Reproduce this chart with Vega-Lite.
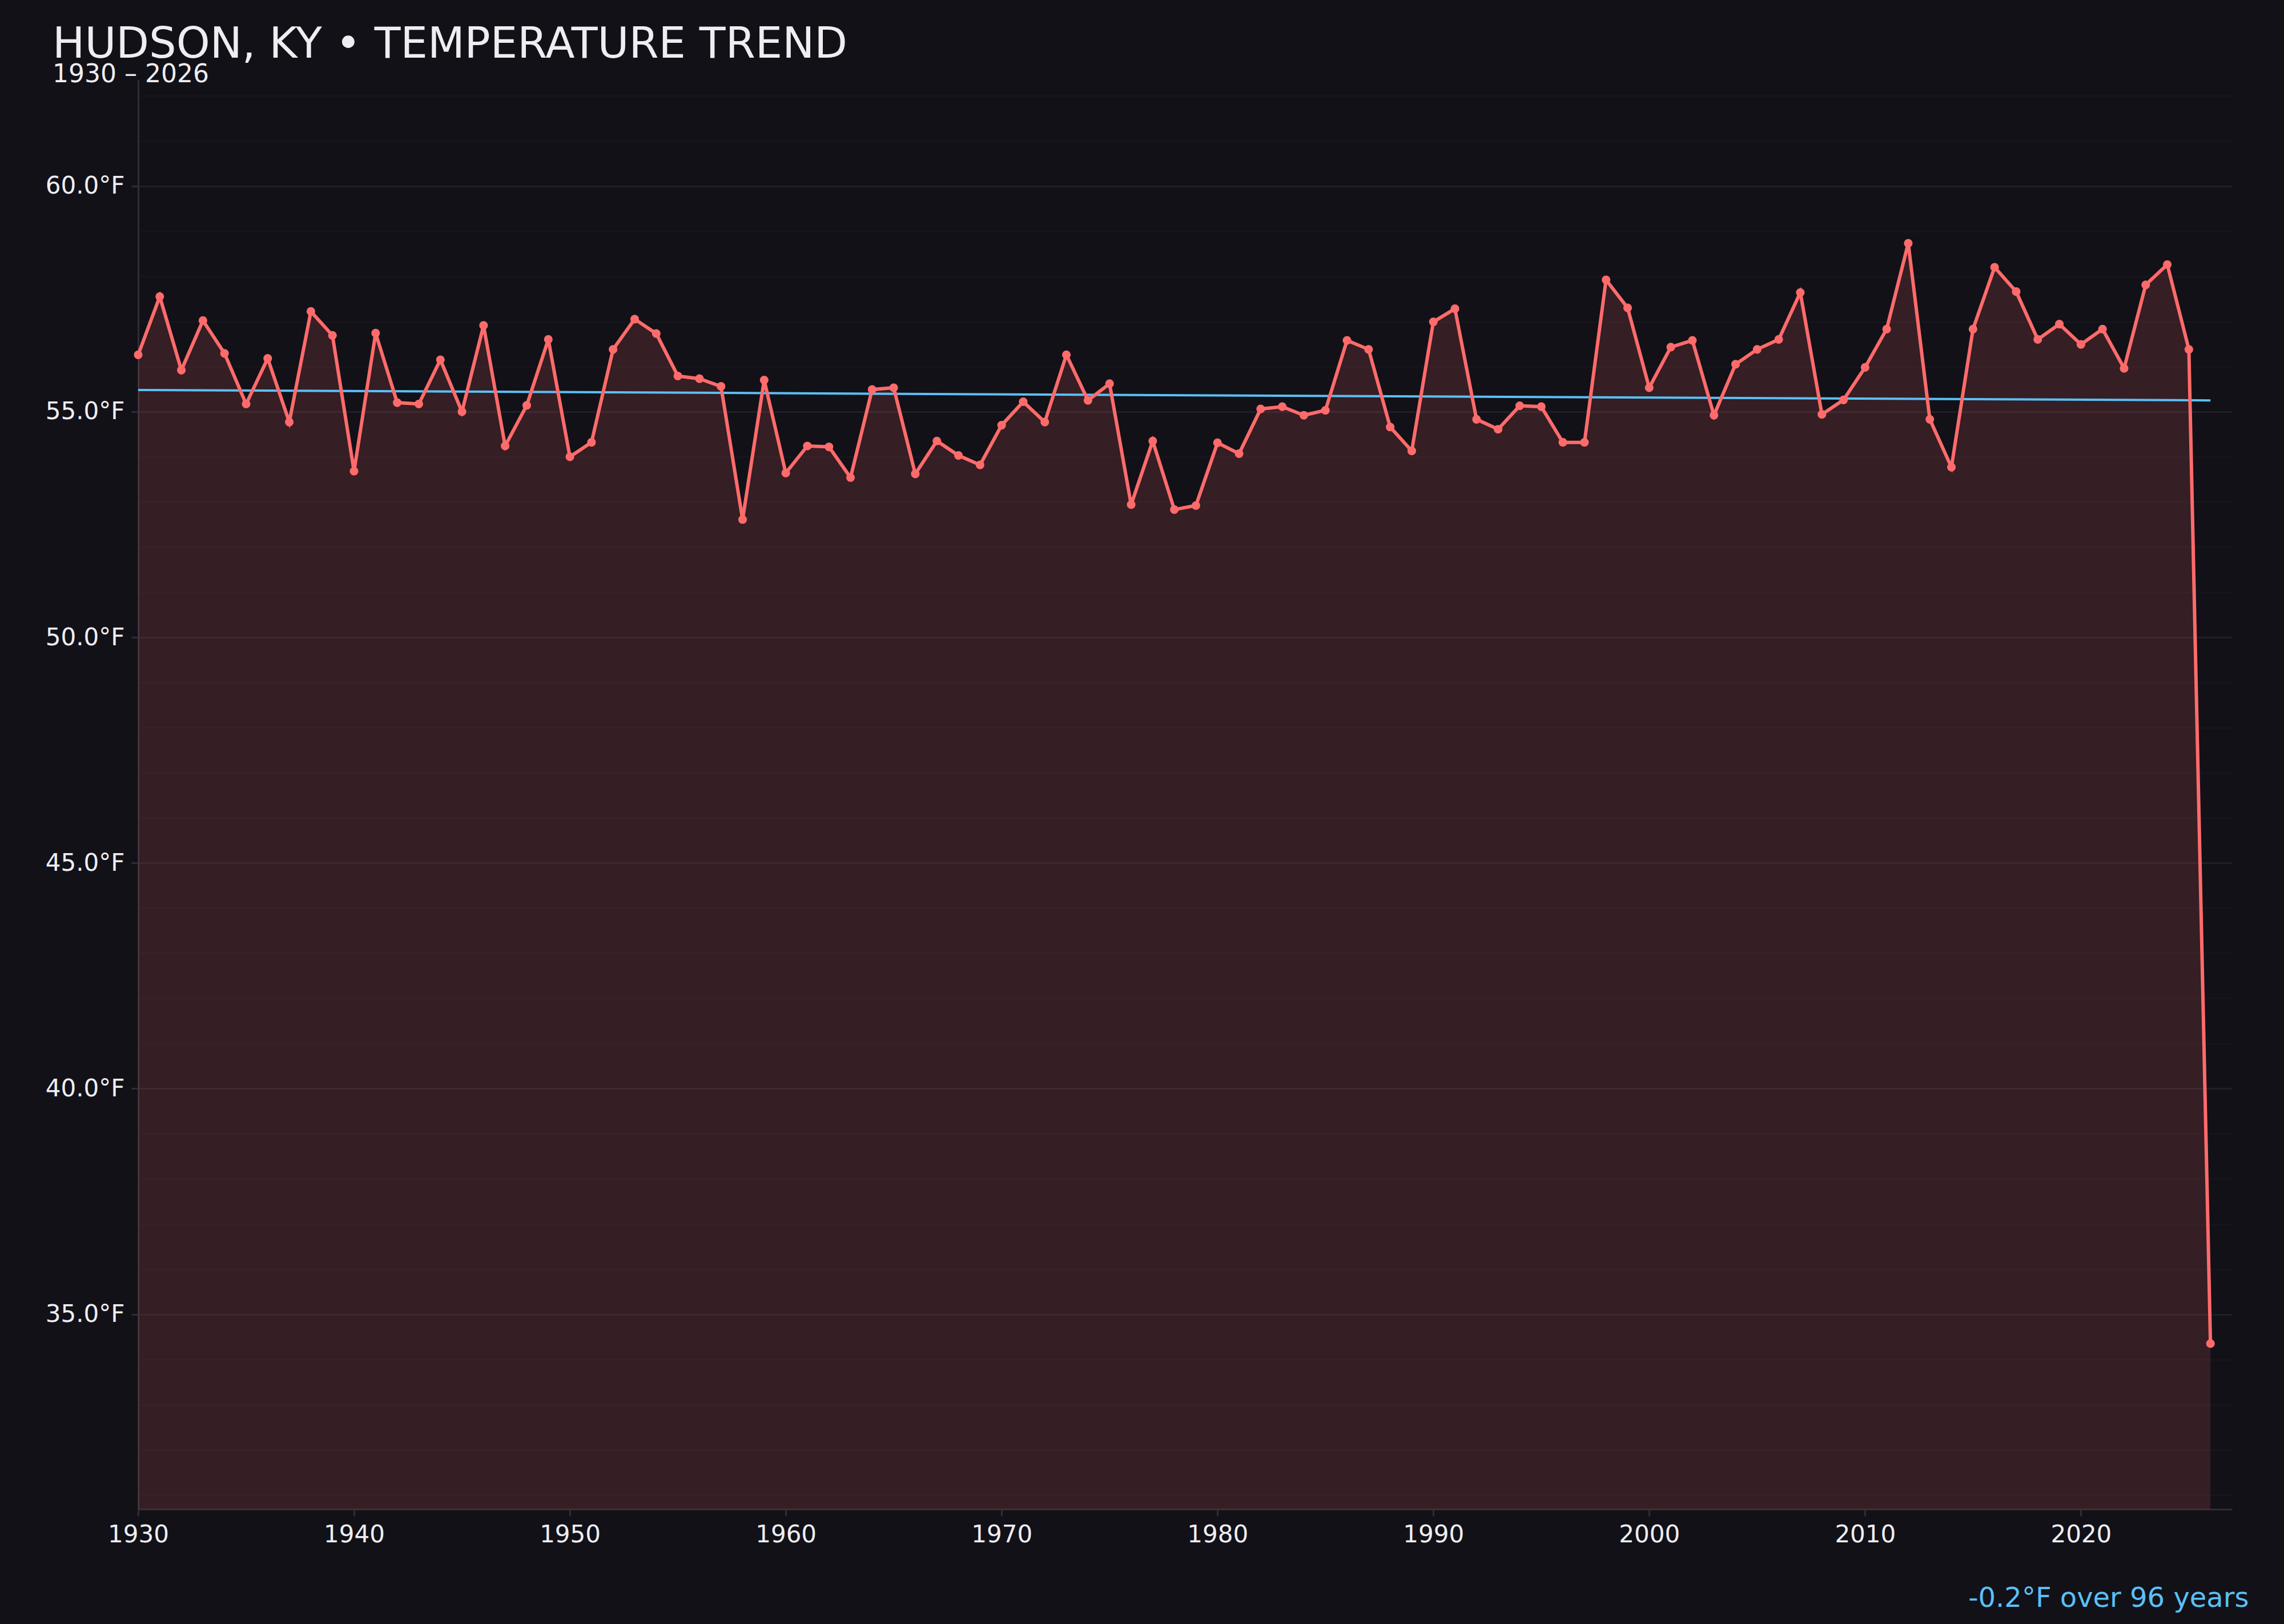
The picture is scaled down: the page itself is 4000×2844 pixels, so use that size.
{
  "$schema": "https://vega.github.io/schema/vega-lite/v6.json",
  "autosize": {"type": "none"},
  "width": 3667,
  "height": 2503,
  "padding": {"left": 242, "top": 140, "right": 91, "bottom": 201},
  "background": "#121118",
  "title": {
    "text": "HUDSON, KY • TEMPERATURE TREND",
    "subtitle": "1930 – 2026",
    "anchor": "start",
    "frame": "group",
    "dx": -150,
    "offset": -14,
    "font": "DejaVu Sans",
    "fontSize": 75,
    "fontWeight": "normal",
    "color": "#eeeef2",
    "subtitleFont": "DejaVu Sans",
    "subtitleFontSize": 44,
    "subtitleColor": "#eeeef2",
    "subtitlePadding": -8
  },
  "config": {
    "view": {"stroke": null},
    "axis": {
      "labelFont": "DejaVu Sans",
      "labelFontSize": 42,
      "labelColor": "#eeeef2",
      "labelFlush": false,
      "domainColor": "#2e2d36",
      "domainWidth": 3,
      "tickColor": "#2e2d36",
      "tickWidth": 3,
      "tickSize": 12,
      "labelPadding": 12
    }
  },
  "datasets": {
    "temps": [
      {"year": 1930, "temp": 56.26}, {"year": 1931, "temp": 57.55}, {"year": 1932, "temp": 55.92},
      {"year": 1933, "temp": 57.02}, {"year": 1934, "temp": 56.29}, {"year": 1935, "temp": 55.17},
      {"year": 1936, "temp": 56.18}, {"year": 1937, "temp": 54.77}, {"year": 1938, "temp": 57.22},
      {"year": 1939, "temp": 56.69}, {"year": 1940, "temp": 53.68}, {"year": 1941, "temp": 56.74},
      {"year": 1942, "temp": 55.20}, {"year": 1943, "temp": 55.17}, {"year": 1944, "temp": 56.15},
      {"year": 1945, "temp": 55.00}, {"year": 1946, "temp": 56.91}, {"year": 1947, "temp": 54.24},
      {"year": 1948, "temp": 55.14}, {"year": 1949, "temp": 56.60}, {"year": 1950, "temp": 54.00},
      {"year": 1951, "temp": 54.32}, {"year": 1952, "temp": 56.38}, {"year": 1953, "temp": 57.05},
      {"year": 1954, "temp": 56.73}, {"year": 1955, "temp": 55.79}, {"year": 1956, "temp": 55.73},
      {"year": 1957, "temp": 55.56}, {"year": 1958, "temp": 52.61}, {"year": 1959, "temp": 55.70},
      {"year": 1960, "temp": 53.64}, {"year": 1961, "temp": 54.24}, {"year": 1962, "temp": 54.22},
      {"year": 1963, "temp": 53.54}, {"year": 1964, "temp": 55.49}, {"year": 1965, "temp": 55.53},
      {"year": 1966, "temp": 53.62}, {"year": 1967, "temp": 54.35}, {"year": 1968, "temp": 54.03},
      {"year": 1969, "temp": 53.82}, {"year": 1970, "temp": 54.70}, {"year": 1971, "temp": 55.22},
      {"year": 1972, "temp": 54.77}, {"year": 1973, "temp": 56.26}, {"year": 1974, "temp": 55.25},
      {"year": 1975, "temp": 55.62}, {"year": 1976, "temp": 52.94}, {"year": 1977, "temp": 54.35},
      {"year": 1978, "temp": 52.83}, {"year": 1979, "temp": 52.92}, {"year": 1980, "temp": 54.31},
      {"year": 1981, "temp": 54.07}, {"year": 1982, "temp": 55.06}, {"year": 1983, "temp": 55.11},
      {"year": 1984, "temp": 54.92}, {"year": 1985, "temp": 55.03}, {"year": 1986, "temp": 56.58},
      {"year": 1987, "temp": 56.38}, {"year": 1988, "temp": 54.66}, {"year": 1989, "temp": 54.13},
      {"year": 1990, "temp": 56.99}, {"year": 1991, "temp": 57.28}, {"year": 1992, "temp": 54.83},
      {"year": 1993, "temp": 54.61}, {"year": 1994, "temp": 55.13}, {"year": 1995, "temp": 55.11},
      {"year": 1996, "temp": 54.32}, {"year": 1997, "temp": 54.32}, {"year": 1998, "temp": 57.92},
      {"year": 1999, "temp": 57.30}, {"year": 2000, "temp": 55.53}, {"year": 2001, "temp": 56.43},
      {"year": 2002, "temp": 56.58}, {"year": 2003, "temp": 54.92}, {"year": 2004, "temp": 56.05},
      {"year": 2005, "temp": 56.38}, {"year": 2006, "temp": 56.60}, {"year": 2007, "temp": 57.64},
      {"year": 2008, "temp": 54.94}, {"year": 2009, "temp": 55.26}, {"year": 2010, "temp": 55.98},
      {"year": 2011, "temp": 56.83}, {"year": 2012, "temp": 58.73}, {"year": 2013, "temp": 54.83},
      {"year": 2014, "temp": 53.77}, {"year": 2015, "temp": 56.83}, {"year": 2016, "temp": 58.20},
      {"year": 2017, "temp": 57.66}, {"year": 2018, "temp": 56.60}, {"year": 2019, "temp": 56.94},
      {"year": 2020, "temp": 56.49}, {"year": 2021, "temp": 56.83}, {"year": 2022, "temp": 55.96},
      {"year": 2023, "temp": 57.81}, {"year": 2024, "temp": 58.26}, {"year": 2025, "temp": 56.38},
      {"year": 2026, "temp": 34.35}
    ],
    "trend": [
      {"year": 1930, "temp": 55.48},
      {"year": 2026, "temp": 55.25}
    ]
  },
  "encoding": {
    "x": {
      "field": "year",
      "type": "quantitative",
      "scale": {"domain": [1930, 2027], "nice": false, "zero": false},
      "axis": {
        "values": [1930, 1940, 1950, 1960, 1970, 1980, 1990, 2000, 2010, 2020],
        "format": "d",
        "grid": false,
        "title": "-0.2°F over 96 years",
        "titleFont": "DejaVu Sans",
        "titleFontSize": 48,
        "titleFontWeight": "normal",
        "titleColor": "#5bc0f5",
        "titleAlign": "right",
        "titleAnchor": "end",
        "titleBaseline": "alphabetic",
        "titleX": 3696,
        "titleY": 170
      }
    },
    "y": {
      "field": "temp",
      "type": "quantitative",
      "scale": {"domain": [30.68, 62.35], "nice": false, "zero": false},
      "axis": {
        "title": null,
        "values": [31, 32, 33, 34, 35, 36, 37, 38, 39, 40, 41, 42, 43, 44, 45, 46, 47, 48, 49, 50, 51, 52, 53, 54, 55, 56, 57, 58, 59, 60, 61, 62],
        "labelExpr": "datum.value % 5 === 0 ? format(datum.value, '.1f') + '°F' : ''",
        "grid": true,
        "gridColor": "#ffffff",
        "gridWidth": 3,
        "gridOpacity": {"condition": {"test": "datum.value % 5 === 0", "value": 0.06}, "value": 0.018},
        "tickOpacity": {"condition": {"test": "datum.value % 5 === 0", "value": 1}, "value": 0}
      }
    }
  },
  "layer": [
    {
      "data": {"name": "temps"},
      "mark": {"type": "area", "color": "#ff6b6b", "fillOpacity": 0.15},
      "encoding": {"y2": {"datum": 30.68}}
    },
    {
      "data": {"name": "trend"},
      "mark": {"type": "line", "color": "#5bc0f5", "strokeWidth": 4}
    },
    {
      "data": {"name": "temps"},
      "mark": {"type": "line", "color": "#ff6b6b", "strokeWidth": 6}
    },
    {
      "data": {"name": "temps"},
      "mark": {"type": "point", "filled": true, "opacity": 1, "color": "#ff6b6b", "size": 230}
    }
  ]
}
